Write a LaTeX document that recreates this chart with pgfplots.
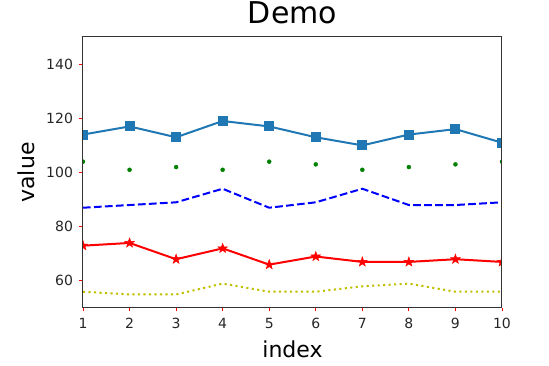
\documentclass[border=0pt]{standalone}
\usepackage{fontspec}
\setmainfont{DejaVu Sans}
\usepackage{pgfplots}
\pgfplotsset{compat=1.18}
\definecolor{mplblue}{HTML}{1F77B4}
\definecolor{mplgreen}{HTML}{008000}
\definecolor{mplyellow}{HTML}{BFBF00}
\definecolor{spine}{HTML}{333333}
\pgfdeclareplotmark{fstar}{\pgfpathmoveto{\pgfpointpolar{90}{\pgfplotmarksize}}%
  \pgfpathlineto{\pgfpointpolar{126}{0.4\pgfplotmarksize}}%
  \pgfpathlineto{\pgfpointpolar{162}{\pgfplotmarksize}}%
  \pgfpathlineto{\pgfpointpolar{198}{0.4\pgfplotmarksize}}%
  \pgfpathlineto{\pgfpointpolar{234}{\pgfplotmarksize}}%
  \pgfpathlineto{\pgfpointpolar{270}{0.4\pgfplotmarksize}}%
  \pgfpathlineto{\pgfpointpolar{306}{\pgfplotmarksize}}%
  \pgfpathlineto{\pgfpointpolar{342}{0.4\pgfplotmarksize}}%
  \pgfpathlineto{\pgfpointpolar{18}{\pgfplotmarksize}}%
  \pgfpathlineto{\pgfpointpolar{54}{0.4\pgfplotmarksize}}%
  \pgfpathclose\pgfusepathqfillstroke}
\begin{document}
\begin{tikzpicture}
\path[use as bounding box] (-83pt,-58pt) rectangle (466pt,308pt);
\begin{axis}[
  at={(0,0)}, anchor=south west,
  scale only axis,
  width=419pt, height=271pt,
  xmin=1, xmax=10, ymin=50, ymax=150,
  xtick={1,2,...,10},
  ytick={60,80,100,120,140},
  tick pos=left,
  tick align=outside,
  major tick length=3.5pt,
  tick style={red, line width=0.8pt},
  axis line style={spine, line width=1pt},
  axis on top,
  clip marker paths=true,
  /pgf/number format/assume math mode=true,
  ticklabel style={font=\fontsize{14}{16}\selectfont, text=black!85},
  xticklabel style={anchor=base, yshift=-17pt},
  yticklabel style={anchor=east, xshift=-3pt},
  title={Demo},
  title style={font=\fontsize{30}{36}\selectfont, at={(axis description cs:0.5,1)}, anchor=base, yshift=7.5pt, inner sep=0pt},
  xlabel={index},
  xlabel style={font=\fontsize{22}{26}\selectfont, at={(axis description cs:0.5,-0.181)}, anchor=base},
  ylabel={value},
  ylabel style={font=\fontsize{22}{26}\selectfont, at={(axis description cs:-0.136,0.5)}, anchor=center},
]
\addplot[mplblue, line width=2pt, mark=square*, mark size=4pt, mark options={solid}] coordinates {
(1,114) (2,117) (3,113) (4,119) (5,117) (6,113) (7,110) (8,114) (9,116) (10,111)};
\addplot[mplgreen, only marks, mark=*, mark size=2pt] coordinates {
(1,104) (2,101) (3,102) (4,101) (5,104) (6,103) (7,101) (8,102) (9,103) (10,104)};
\addplot[blue, line width=2pt, dash pattern=on 7.7pt off 3.3pt] coordinates {
(1,87) (2,88) (3,89) (4,94) (5,87) (6,89) (7,94) (8,88) (9,88) (10,89)};
\addplot[red, line width=2pt, mark=fstar, mark size=5pt, mark options={solid, line width=0.5pt}] coordinates {
(1,73) (2,74) (3,68) (4,72) (5,66) (6,69) (7,67) (8,67) (9,68) (10,67)};
\addplot[mplyellow, line width=2pt, dash pattern=on 2.1pt off 3.4pt] coordinates {
(1,56) (2,55) (3,55) (4,59) (5,56) (6,56) (7,58) (8,59) (9,56) (10,56)};
\end{axis}
\end{tikzpicture}
\end{document}
